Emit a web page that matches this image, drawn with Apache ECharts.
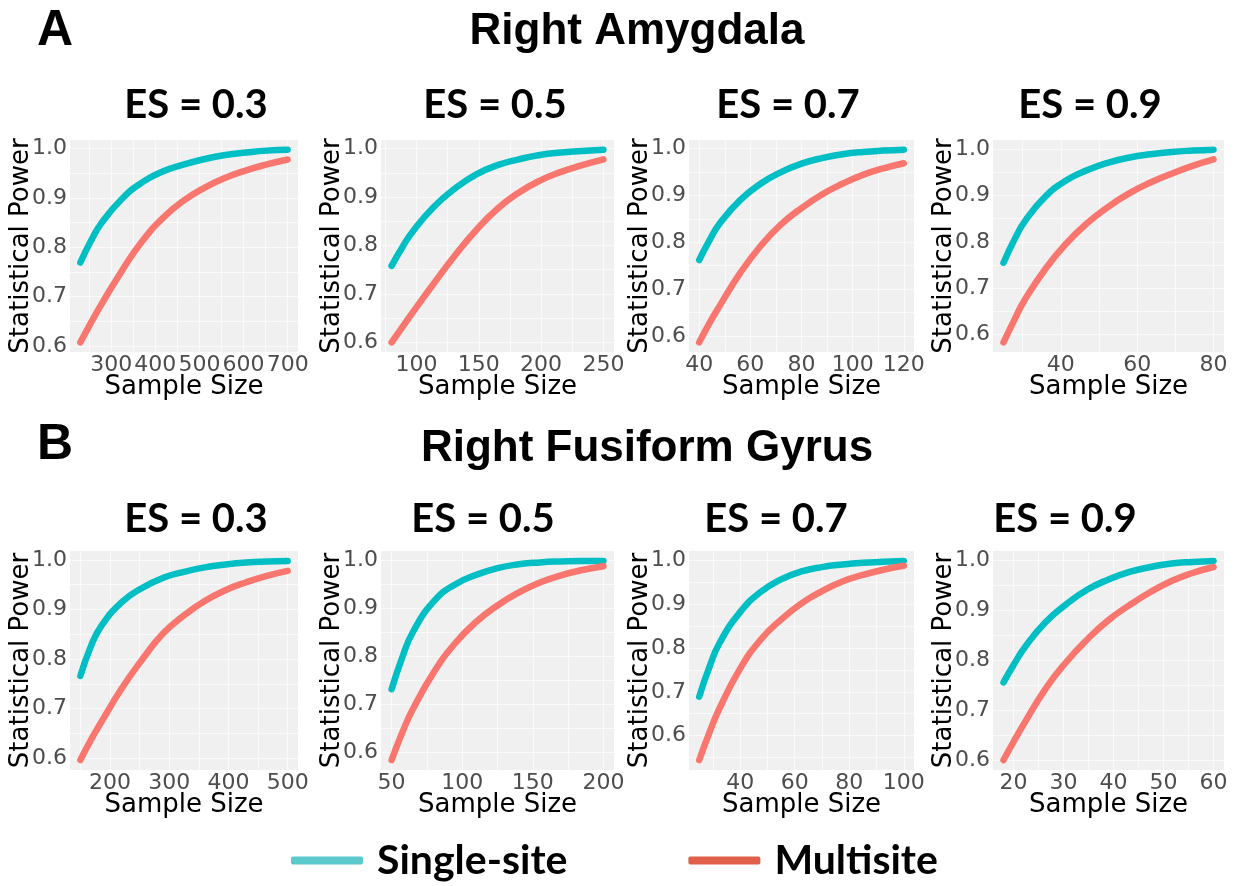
<!DOCTYPE html>
<html><head><meta charset="utf-8">
<script src="https://cdn.jsdelivr.net/npm/echarts@6/dist/echarts.min.js"></script>
<style>html,body{margin:0;padding:0;background:#fff}#c{width:1240px;height:886px}</style>
</head><body><div id="c"></div>
<script>
// ---------- DATA ----------
const seriesNames = ['Single-site', 'Multisite'];
const regionTitles = ['Right Amygdala', 'Right Fusiform Gyrus'];
const panelLetters = ['A', 'B'];
const esTitles = ['ES = 0.3', 'ES = 0.5', 'ES = 0.7', 'ES = 0.9'];
const yTicks = [0.6, 0.7, 0.8, 0.9, 1.0];

// A: Right Amygdala
const n_A1 = [230, 253.5, 277, 324, 371, 418, 465, 512, 559, 606, 653, 700];
const single_A1 = [0.769, 0.812, 0.848, 0.898, 0.932, 0.954, 0.968, 0.979, 0.987, 0.992, 0.996, 0.998];
const multi_A1 = [0.607, 0.646, 0.683, 0.752, 0.813, 0.860, 0.895, 0.921, 0.941, 0.956, 0.968, 0.978];
const xt_A1 = [300, 400, 500, 600, 700];

const n_A2 = [80, 88.5, 97, 114, 131, 148, 165, 182, 199, 216, 233, 250];
const single_A2 = [0.758, 0.796, 0.829, 0.880, 0.918, 0.947, 0.966, 0.978, 0.987, 0.992, 0.995, 0.998];
const multi_A2 = [0.600, 0.631, 0.662, 0.722, 0.780, 0.832, 0.876, 0.909, 0.934, 0.952, 0.966, 0.978];
const xt_A2 = [100, 150, 200, 250];

const n_A3 = [40, 44, 48, 56, 64, 72, 80, 88, 96, 104, 112, 120];
const single_A3 = [0.762, 0.804, 0.840, 0.890, 0.925, 0.950, 0.968, 0.980, 0.988, 0.993, 0.996, 0.998];
const multi_A3 = [0.586, 0.627, 0.664, 0.734, 0.792, 0.838, 0.873, 0.902, 0.925, 0.944, 0.958, 0.969];
const xt_A3 = [40, 60, 80, 100, 120];

const n_A4 = [25, 27.75, 30.5, 36, 41.5, 47, 52.5, 58, 63.5, 69, 74.5, 80];
const single_A4 = [0.755, 0.803, 0.843, 0.898, 0.933, 0.955, 0.971, 0.982, 0.989, 0.994, 0.997, 0.999];
const multi_A4 = [0.583, 0.630, 0.674, 0.742, 0.797, 0.841, 0.876, 0.905, 0.928, 0.947, 0.964, 0.978];
const xt_A4 = [40, 60, 80];

// B: Right Fusiform Gyrus
const n_B1 = [150, 167.5, 185, 220, 255, 290, 325, 360, 395, 430, 465, 500];
const single_B1 = [0.766, 0.825, 0.866, 0.915, 0.944, 0.964, 0.976, 0.985, 0.991, 0.995, 0.997, 0.998];
const multi_B1 = [0.596, 0.636, 0.672, 0.741, 0.800, 0.852, 0.888, 0.917, 0.939, 0.955, 0.968, 0.978];
const xt_B1 = [200, 300, 400, 500];

const n_B2 = [50, 57.5, 65, 80, 95, 110, 125, 140, 155, 170, 185, 200];
const single_B2 = [0.731, 0.797, 0.850, 0.915, 0.950, 0.970, 0.984, 0.992, 0.996, 0.998, 0.999, 0.999];
const multi_B2 = [0.583, 0.640, 0.689, 0.767, 0.827, 0.872, 0.906, 0.933, 0.954, 0.969, 0.980, 0.988];
const xt_B2 = [50, 100, 150, 200];

const n_B3 = [25, 28.75, 32.5, 40, 47.5, 55, 62.5, 70, 77.5, 85, 92.5, 100];
const single_B3 = [0.689, 0.757, 0.812, 0.882, 0.928, 0.957, 0.975, 0.985, 0.991, 0.995, 0.997, 0.999];
const multi_B3 = [0.544, 0.607, 0.663, 0.753, 0.819, 0.865, 0.902, 0.930, 0.952, 0.967, 0.979, 0.988];
const xt_B3 = [40, 60, 80, 100];

const n_B4 = [18, 20.1, 22.2, 26.4, 30.6, 34.8, 39, 43.2, 47.4, 51.6, 55.8, 60];
const single_B4 = [0.756, 0.792, 0.825, 0.876, 0.912, 0.941, 0.961, 0.976, 0.986, 0.993, 0.996, 0.998];
const multi_B4 = [0.601, 0.639, 0.675, 0.743, 0.797, 0.842, 0.880, 0.910, 0.936, 0.958, 0.974, 0.986];
const xt_B4 = [20, 30, 40, 50, 60];

const panels = [
  [n_A1, single_A1, multi_A1, xt_A1], [n_A2, single_A2, multi_A2, xt_A2],
  [n_A3, single_A3, multi_A3, xt_A3], [n_A4, single_A4, multi_A4, xt_A4],
  [n_B1, single_B1, multi_B1, xt_B1], [n_B2, single_B2, multi_B2, xt_B2],
  [n_B3, single_B3, multi_B3, xt_B3], [n_B4, single_B4, multi_B4, xt_B4]
];

// ---------- LAYOUT / STYLE ----------
const cols = [[70, 298], [381, 614], [689, 914], [993, 1224]];
const rows = [[140, 352], [551, 770]];
const titleX = [[196, 495, 788, 1090], [196, 483, 776, 1065]];
const titleY = [105, 519];
const lineColors = ['#00BFC4', '#F8766D'];
const legendColors = ['#5BC8CC', '#E0604A'];
const axisFont = 'DejaVu Sans';

function expand(lo, hi) { const d = (hi - lo) * 0.05; return [lo - d, hi + d]; }
function withMinors(ticks, lo, hi) {
  const out = ticks.slice();
  const step = ticks.length > 1 ? ticks[1] - ticks[0] : 0.1;
  for (let t = ticks[0] - step / 2; t <= hi; t += step) if (t >= lo) out.push(+t.toFixed(6));
  return out.sort((a, b) => a - b);
}

const grid = [], xAxis = [], yAxis = [], series = [], graphic = [];
panels.forEach((p, i) => {
  const r = Math.floor(i / 4), c = i % 4;
  const [n, s, m, xt] = p;
  const xr = expand(Math.min(...n), Math.max(...n));
  const allY = s.concat(m);
  const yr = expand(Math.min(...allY), Math.max(...allY));
  grid.push({
    left: cols[c][0], top: rows[r][0],
    width: cols[c][1] - cols[c][0], height: rows[r][1] - rows[r][0],
    show: true, backgroundColor: '#F0F0F0', borderWidth: 0
  });
  xAxis.push({
    type: 'value', gridIndex: i, min: xr[0], max: xr[1],
    name: 'Sample Size', nameLocation: 'middle', nameGap: 22, nameMoveOverlap: false,
    nameTextStyle: { fontFamily: axisFont, fontSize: 26, color: '#000' },
    axisLine: { show: false },
    axisTick: { show: false, customValues: withMinors(xt, xr[0], xr[1]) },
    axisLabel: { customValues: xt, fontFamily: axisFont, fontSize: 22, color: '#4D4D4D', margin: 2,
      formatter: v => String(Math.round(v)) },
    splitLine: { show: true, lineStyle: { color: '#FAFAFA', width: 1 } }
  });
  yAxis.push({
    type: 'value', gridIndex: i, min: yr[0], max: yr[1],
    name: 'Statistical Power', nameLocation: 'middle', nameGap: 36, nameRotate: 90, nameMoveOverlap: false,
    nameTextStyle: { fontFamily: axisFont, fontSize: 26, color: '#000' },
    axisLine: { show: false },
    axisTick: { show: false, customValues: withMinors(yTicks, yr[0], yr[1]) },
    axisLabel: { customValues: yTicks, fontFamily: axisFont, fontSize: 22, color: '#4D4D4D', margin: 3,
      formatter: v => v.toFixed(1) },
    splitLine: { show: true, lineStyle: { color: '#FAFAFA', width: 1 } }
  });
  [s, m].forEach((vals, k) => {
    series.push({
      type: 'line', name: seriesNames[k], xAxisIndex: i, yAxisIndex: i,
      data: n.map((x, j) => [x, vals[j]]),
      smooth: 0.5, showSymbol: false, symbol: 'none',
      lineStyle: { color: lineColors[k], width: 6.5, cap: 'round' },
      itemStyle: { color: lineColors[k] }, silent: true
    });
  });
  graphic.push({ type: 'text', x: titleX[r][c], y: titleY[r],
    style: { text: esTitles[c], fill: '#000', font: 'bold 40px Lato', align: 'center', verticalAlign: 'middle' } });
});

graphic.push({ type: 'text', x: 55, y: 31, style: { text: panelLetters[0], fill: '#000', font: 'bold 50px "Liberation Sans"', align: 'center', verticalAlign: 'middle' } });
graphic.push({ type: 'text', x: 55, y: 445, style: { text: panelLetters[1], fill: '#000', font: 'bold 50px "Liberation Sans"', align: 'center', verticalAlign: 'middle' } });
graphic.push({ type: 'text', x: 637, y: 32, style: { text: regionTitles[0], fill: '#000', font: 'bold 44px "Liberation Sans"', align: 'center', verticalAlign: 'middle' } });
graphic.push({ type: 'text', x: 647, y: 449, style: { text: regionTitles[1], fill: '#000', font: 'bold 44px "Liberation Sans"', align: 'center', verticalAlign: 'middle' } });

const chart = echarts.init(document.getElementById('c'), null, { renderer: 'canvas' });
chart.setOption({
  animation: false,
  backgroundColor: '#FFFFFF',
  grid, xAxis, yAxis, series, graphic,
  legend: {
    data: seriesNames.map((nm, k) => ({ name: nm, itemStyle: { color: legendColors[k] } })),
    left: 291, top: 840, padding: 0, icon: 'roundRect', itemWidth: 72, itemHeight: 8, itemGap: 121,
    selectedMode: false,
    textStyle: { fontFamily: 'Lato', fontWeight: 'bold', fontSize: 41, color: '#000', padding: [0, 0, 0, 9] }
  }
});
</script></body></html>
